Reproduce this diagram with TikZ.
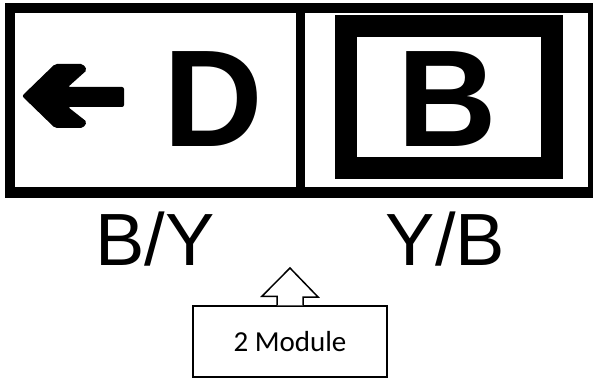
\documentclass[tikz,border=0pt]{standalone}
\usepackage{fontspec}
\setmainfont{Liberation Sans}
\newfontfamily\carlito{Carlito}
\usetikzlibrary{positioning}

\begin{document}
\begin{tikzpicture}[x=1pt,y=-1pt,
	bigletter/.style={inner sep=0pt,anchor=base,font=\fontsize{138}{138}\bfseries\selectfont},
	colour/.style={inner sep=0pt,anchor=base,font=\fontsize{74}{74}\selectfont},
	modulebox/.style={draw,line width=1.5pt,minimum width=194pt,minimum height=71pt,inner sep=0pt,font=\fontsize{29}{29}\carlito\selectfont}]
	\useasboundingbox (0,0) rectangle (593,379);
	% sign frame
	\draw[line width=10pt] (9.5,8) rectangle (593,192.5);
	\draw[line width=9pt] (300.5,8) -- (300.5,192.5);
	\draw[line width=22pt] (345.5,26) rectangle (552,168);
	% left arrow
	\fill[rounded corners=2pt] (22,96) -- (55,64) -- (83,64) -- (87,70) -- (68,87) -- (124,87)
		-- (124,107) -- (68,107) -- (87,122) -- (83,128) -- (55,128) -- cycle;
	\node[bigletter] (dletter) at (213,147) {D};
	\node[bigletter] (bletter) at (447,147) {B};
	\node[colour] (leftcol) at (155,265) {B/Y};
	\node[colour] (rightcol) at (445.5,265) {Y/B};
	% module callout
	\node[modulebox] (module) at (290,341.5) {2 Module};
	\draw[line width=1.5pt,fill=white,line join=miter] ([xshift=-13pt]module.north) -- ++(0,-9) -- ++(-15,0)
		-- (290,268) -- (318,297) -- ++(-15,0) -- ([xshift=13pt]module.north);
\end{tikzpicture}
\end{document}
